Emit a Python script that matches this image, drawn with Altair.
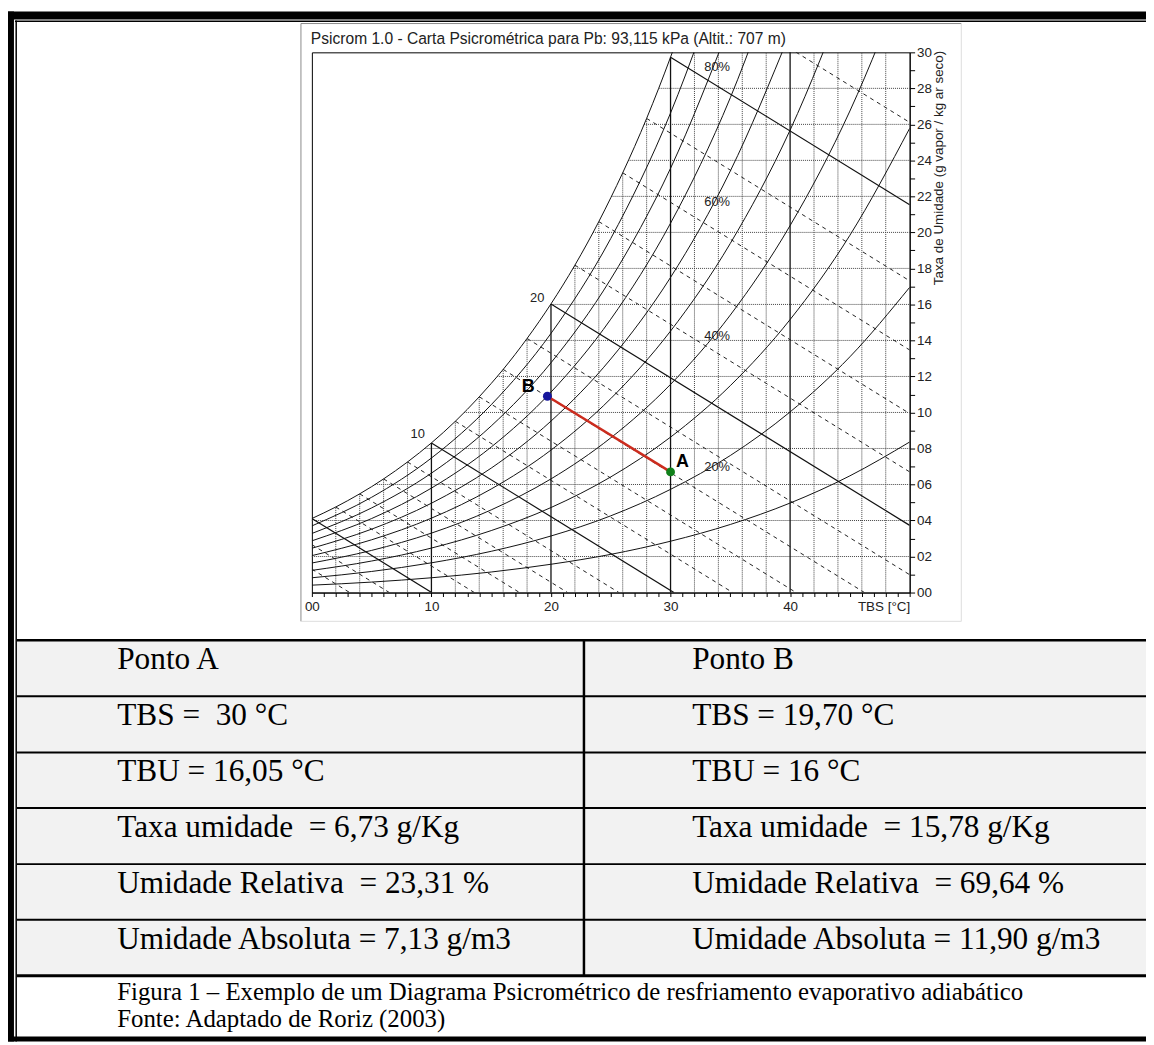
import altair as alt
import pandas as pd

# ---------------- chart values ----------------
# relative-humidity curves: humidity ratio (g/kg) at these dry-bulb temperatures
tbs_pts = [0, 5, 10, 15, 20, 25, 30, 35, 40, 45, 50]
ur_10 = [0.41, 0.58, 0.82, 1.14, 1.57, 2.12, 2.85, 3.78, 4.97, 6.48, 8.36]
ur_20 = [0.82, 1.17, 1.65, 2.29, 3.14, 4.26, 5.73, 7.61, 10.03, 13.09, 16.95]
ur_30 = [1.23, 1.75, 2.47, 3.44, 4.72, 6.42, 8.63, 11.49, 15.16, 19.84, 25.78]
ur_40 = [1.64, 2.34, 3.30, 4.59, 6.31, 8.59, 11.56, 15.41, 20.38, 26.74, 34.85]
ur_50 = [2.05, 2.93, 4.13, 5.75, 7.91, 10.77, 14.52, 19.39, 25.68, 33.79]
ur_60 = [2.46, 3.52, 4.96, 6.91, 9.52, 12.97, 17.50, 23.41, 31.08]
ur_70 = [2.87, 4.11, 5.80, 8.08, 11.13, 15.18, 20.51, 27.48, 36.56]
ur_80 = [3.28, 4.70, 6.63, 9.25, 12.76, 17.41, 23.56, 31.61]
ur_90 = [3.70, 5.29, 7.47, 10.43, 14.39, 19.66, 26.63, 35.79]
# saturation curve (100 %)
sat_tbs = [0, 2, 4, 5, 6, 8, 10, 12, 14, 15, 16, 18, 20, 22, 24, 25, 26, 28, 30, 32]
sat_w = [4.11, 4.75, 5.48, 5.88, 6.31, 7.25, 8.31, 9.51, 10.87, 11.61, 12.39, 14.11,
         16.03, 18.18, 20.60, 21.92, 23.31, 26.33, 29.73, 33.49]

# wet-bulb (TBU) lines: start and end points
tbu_vals = [-4, -2, 0, 2, 4, 6, 8, 10, 12, 14, 16, 18, 20, 22, 24, 26, 28, 30, 32]
tbu_x1 = [0, 0, 0, 2, 4, 6, 8, 10, 12, 14, 16, 18, 20, 22, 24, 26, 28, 30, 32]
tbu_y1 = [1.30, 2.66, 4.11, 4.75, 5.48, 6.31, 7.25, 8.31, 9.51, 10.87, 12.39, 14.11,
          16.03, 18.18, 20.60, 23.31, 26.33, 29.73, 33.49]
tbu_x2 = [3.16, 6.48, 10.02, 13.59, 17.37, 21.39, 25.68, 30.28, 35.20, 40.50, 46.22,
          50, 50, 50, 50, 50, 50, 50, 50]
tbu_y2 = [0, 0, 0, 0, 0, 0, 0, 0, 0, 0, 0, 0.99, 3.73, 6.70, 9.94, 13.47, 17.31, 21.53, 26.11]

# dotted grid, drawn only below the saturation curve
grid_tbs = [2, 4, 6, 8, 12, 14, 16, 18, 22, 24, 26, 28, 32, 34, 36, 38, 42, 44, 46, 48]
grid_tbs_top = [4.75, 5.48, 6.31, 7.25, 9.51, 10.87, 12.39, 14.11, 18.18, 20.60, 23.31,
                26.33, 30, 30, 30, 30, 30, 30, 30, 30]
grid_w = [2, 4, 6, 8, 10, 12, 14, 16, 18, 20, 22, 24, 26, 28]
grid_w_start = [0, 0, 5.27, 9.43, 12.74, 15.50, 17.88, 19.97, 21.83, 23.52, 25.06,
                26.47, 27.79, 29.01]

# solid dry-bulb lines
main_tbs = [10, 20, 30, 40]
main_tbs_top = [8.31, 16.03, 29.73, 30]

# curve labels
ur_label_text = ["80%", "60%", "40%", "20%"]
ur_label_tbs = [33.9, 33.9, 33.9, 33.9]
ur_label_w = [29.2, 21.7, 14.25, 6.97]
sat_label_text = ["10", "20"]
sat_label_tbs = [8.85, 18.85]
sat_label_w = [8.81, 16.38]

# process points A -> B
ponto_nome = ["A", "B"]
ponto_tbs = [30.0, 19.7]
ponto_w = [6.7, 10.9]
ponto_cor = ["#10801a", "#16169c"]
ponto_lbl_tbs = [31.0, 18.1]
ponto_lbl_w = [7.22, 11.43]

x_ticks = list(range(0, 51))
y_ticks = list(range(0, 31))

titulo = "Psicrom 1.0 - Carta Psicrométrica para Pb: 93,115 kPa (Altit.: 707 m)"
eixo_y = "Taxa de Umidade (g vapor / kg ar seco)"

col_a = ["Ponto A", "TBS =\u00a0 30 °C", "TBU = 16,05 °C", "Taxa umidade\u00a0 = 6,73 g/Kg",
         "Umidade Relativa\u00a0 = 23,31 %", "Umidade Absoluta = 7,13 g/m3"]
col_b = ["Ponto B", "TBS = 19,70 °C", "TBU = 16 °C", "Taxa umidade\u00a0 = 15,78 g/Kg",
         "Umidade Relativa\u00a0 = 69,64 %", "Umidade Absoluta = 11,90 g/m3"]
legenda = ["Figura 1 – Exemplo de um Diagrama Psicrométrico de resfriamento evaporativo adiabático",
           "Fonte: Adaptado de Roriz (2003)"]

# ---------------- page layout (pixels of the page) ----------------
row_edges = [641, 697.5, 754, 810, 866.5, 922.5, 979]
col_text_x = [118, 697]
col_div_x = 588
caption_y = [1003, 1031]

SANS = "Liberation Sans"
SERIF = "Liberation Serif"
INK = "#222222"

# ---------------- psychrometric chart ----------------
xs = alt.Scale(domain=[0, 50], nice=False, zero=False)
ys = alt.Scale(domain=[0, 30], nice=False, zero=False)

x_axis = alt.Axis(
    values=x_ticks, format="02d", title=None,
    labelExpr="datum.value == 50 ? 'TBS [°C]' : (datum.value % 10 == 0 ? datum.label : '')",
    labelAlign={"condition": {"test": "datum.value == 50", "value": "right"}, "value": "center"},
    labelFlush=False, labelOverlap=False, labelBound=False,
    labelFont=SANS, labelFontSize=13.5, labelColor=INK, labelPadding=3,
    tickSize=4, tickColor="black", domainColor="black", grid=False,
)
y_axis = alt.Axis(
    orient="right", values=y_ticks, format="02d",
    labelExpr="datum.value % 2 == 0 ? datum.label : ''",
    labelFlush=False, labelOverlap=False, labelBound=False,
    labelFont=SANS, labelFontSize=13.5, labelColor=INK, labelPadding=2,
    tickSize=5, tickColor="black", domainColor="black", grid=False,
    title=eixo_y, titleAngle=270, titleX=29, titleY=116, titleAlign="center",
    titleBaseline="middle", titleFont=SANS, titleFontSize=13.5, titleFontWeight="normal",
    titleColor=INK,
)


def PX(f):
    return alt.X(f, type="quantitative", scale=xs, axis=x_axis)


def PY(f):
    return alt.Y(f, type="quantitative", scale=ys, axis=y_axis)


gv = pd.DataFrame({"T": grid_tbs, "top": grid_tbs_top, "base": [0] * len(grid_tbs)})
gh = pd.DataFrame({"w": grid_w, "start": grid_w_start, "end": [50] * len(grid_w)})
mv = pd.DataFrame({"T": main_tbs, "top": main_tbs_top, "base": [0] * len(main_tbs)})

rows = []
for rh, vals in [(10, ur_10), (20, ur_20), (30, ur_30), (40, ur_40), (50, ur_50),
                 (60, ur_60), (70, ur_70), (80, ur_80), (90, ur_90)]:
    for t, w in zip(tbs_pts, vals):
        rows.append({"rh": rh, "T": t, "w": w})
for t, w in zip(sat_tbs, sat_w):
    rows.append({"rh": 100, "T": t, "w": w})
rh_df = pd.DataFrame(rows)

tbu_df = pd.DataFrame({"tbu": tbu_vals, "x1": tbu_x1, "y1": tbu_y1, "x2": tbu_x2, "y2": tbu_y2})
tbu_solid = tbu_df[tbu_df["tbu"] % 10 == 0]
tbu_dash = tbu_df[tbu_df["tbu"] % 10 != 0]

pts = pd.DataFrame({"nome": ponto_nome, "T": ponto_tbs, "w": ponto_w, "cor": ponto_cor,
                    "lx": ponto_lbl_tbs, "ly": ponto_lbl_w})
urlab = pd.DataFrame({"txt": ur_label_text, "T": ur_label_tbs, "w": ur_label_w})
satlab = pd.DataFrame({"txt": sat_label_text, "T": sat_label_tbs, "w": sat_label_w})

grid_v = alt.Chart(gv).mark_rule(color="#444444", strokeDash=[1, 1], strokeWidth=1).encode(
    x=PX("T"), y=PY("base"), y2=alt.Y2("top"))
grid_h = alt.Chart(gh).mark_rule(color="#444444", strokeDash=[1, 1], strokeWidth=1).encode(
    y=PY("w"), x=PX("start"), x2=alt.X2("end"))
main_v = alt.Chart(mv).mark_rule(color="#111111", strokeWidth=1.3).encode(
    x=PX("T"), y=PY("base"), y2=alt.Y2("top"))
wb_dash = alt.Chart(tbu_dash).mark_rule(color="#222222", strokeDash=[4, 4], strokeWidth=1,
                                        clip=True).encode(
    x=PX("x1"), y=PY("y1"), x2=alt.X2("x2"), y2=alt.Y2("y2"))
wb_solid = alt.Chart(tbu_solid).mark_rule(color="#111111", strokeWidth=1.2, clip=True).encode(
    x=PX("x1"), y=PY("y1"), x2=alt.X2("x2"), y2=alt.Y2("y2"))
rh_lines = alt.Chart(rh_df).mark_line(interpolate="monotone", clip=True, color="#111111",
                                      strokeWidth=1).encode(
    x=PX("T"), y=PY("w"), detail="rh:N")
proc_line = alt.Chart(pts).mark_line(color="#cc2c1e", strokeWidth=2.5).encode(
    x=PX("T"), y=PY("w"))
proc_pts = alt.Chart(pts).mark_circle(size=80, opacity=1).encode(
    x=PX("T"), y=PY("w"), color=alt.Color("cor:N", scale=None))
proc_lbl = alt.Chart(pts).mark_text(font=SANS, fontSize=18, fontWeight="bold",
                                    color="black", baseline="middle").encode(
    x=PX("lx"), y=PY("ly"), text="nome:N")
ur_text = alt.Chart(urlab).mark_text(font=SANS, fontSize=13, color=INK, baseline="middle").encode(
    x=PX("T"), y=PY("w"), text="txt:N")
sat_text = alt.Chart(satlab).mark_text(font=SANS, fontSize=13, color=INK, baseline="middle").encode(
    x=PX("T"), y=PY("w"), text="txt:N")

psychro = alt.layer(grid_v, grid_h, main_v, wb_dash, wb_solid, rh_lines,
                    proc_line, proc_pts, proc_lbl, ur_text, sat_text)

# ---------------- document frame and table ----------------
VIEW_LEFT, VIEW_TOP = 314, 49
pxs = alt.Scale(domain=[0, 1154], range=[-VIEW_LEFT, 1154 - VIEW_LEFT], nice=False, zero=False)
pys = alt.Scale(domain=[0, 1045], range=[-VIEW_TOP, 1045 - VIEW_TOP], nice=False, zero=False)


def DX(f):
    return alt.X(f, type="quantitative", scale=pxs, axis=None)


def DY(f):
    return alt.Y(f, type="quantitative", scale=pys, axis=None)


rects = pd.DataFrame({
    "x": [17, 6, 6, 15, 15.5, 6],
    "x2": [1154, 1154, 14, 1154, 17, 1154],
    "y": [row_edges[0], 8, 8, 17, 17, 1040],
    "y2": [row_edges[-1], 16, 1045, 18.5, 1045, 1045],
    "fill": ["#f2f2f2", "#000000", "#000000", "#000000", "#000000", "#000000"],
})
doc_rects = alt.Chart(rects).mark_rect().encode(
    x=DX("x"), x2=alt.X2("x2"), y=DY("y"), y2=alt.Y2("y2"),
    color=alt.Color("fill:N", scale=None))

line_rows = [
    # chart picture border
    {"x": 303, "x2": 303, "y": 20, "y2": 622, "c": "#8a8a8a", "sw": 1},
    {"x": 303, "x2": 968, "y": 20, "y2": 20, "c": "#8a8a8a", "sw": 1},
    {"x": 968, "x2": 968, "y": 20, "y2": 622, "c": "#dddddd", "sw": 1},
    {"x": 303, "x2": 968, "y": 622, "y2": 622, "c": "#dddddd", "sw": 1},
    # table column divider
    {"x": col_div_x, "x2": col_div_x, "y": row_edges[0], "y2": row_edges[-1], "c": "#000000", "sw": 2.5},
]
for i, yv in enumerate(row_edges):
    sw = 3 if i == len(row_edges) - 1 else (2.5 if i == 0 else 2)
    line_rows.append({"x": 17, "x2": 1154, "y": yv, "y2": yv, "c": "#000000", "sw": sw})
lines = pd.DataFrame(line_rows)
doc_lines = alt.Chart(lines).mark_rule().encode(
    x=DX("x"), x2=alt.X2("x2"), y=DY("y"), y2=alt.Y2("y2"),
    color=alt.Color("c:N", scale=None), strokeWidth=alt.StrokeWidth("sw:Q", scale=None))

trow = []
for i in range(len(col_a)):
    trow.append({"x": col_text_x[0], "y": row_edges[i] + 29, "txt": col_a[i]})
    trow.append({"x": col_text_x[1], "y": row_edges[i] + 29, "txt": col_b[i]})
table_text = alt.Chart(pd.DataFrame(trow)).mark_text(
    align="left", baseline="alphabetic", font=SERIF, fontSize=31.5, color="black").encode(
    x=DX("x"), y=DY("y"), text="txt:N")

cap = pd.DataFrame({"x": [col_text_x[0]] * 2, "y": caption_y, "txt": legenda})
cap_text = alt.Chart(cap).mark_text(
    align="left", baseline="alphabetic", font=SERIF, fontSize=25, color="black").encode(
    x=DX("x"), y=DY("y"), text="txt:N")

tit = pd.DataFrame({"x": [313], "y": [40.5], "txt": [titulo]})
title_text = alt.Chart(tit).mark_text(
    align="left", baseline="alphabetic", font=SANS, fontSize=15.7, color=INK).encode(
    x=DX("x"), y=DY("y"), text="txt:N")

doc = alt.layer(doc_rects, doc_lines, table_text, cap_text, title_text)

chart = alt.layer(doc, psychro).resolve_scale(x="independent", y="independent").properties(
    width=602, height=544, autosize="none",
    padding={"left": VIEW_LEFT - 8, "top": VIEW_TOP - 8, "right": 1146 - (VIEW_LEFT - 8) - 602,
             "bottom": 1037 - (VIEW_TOP - 8) - 544},
    background="white",
).configure_view(stroke="black", strokeWidth=1)

chart.save("out.html", embed_options={"renderer": "svg", "actions": False})
